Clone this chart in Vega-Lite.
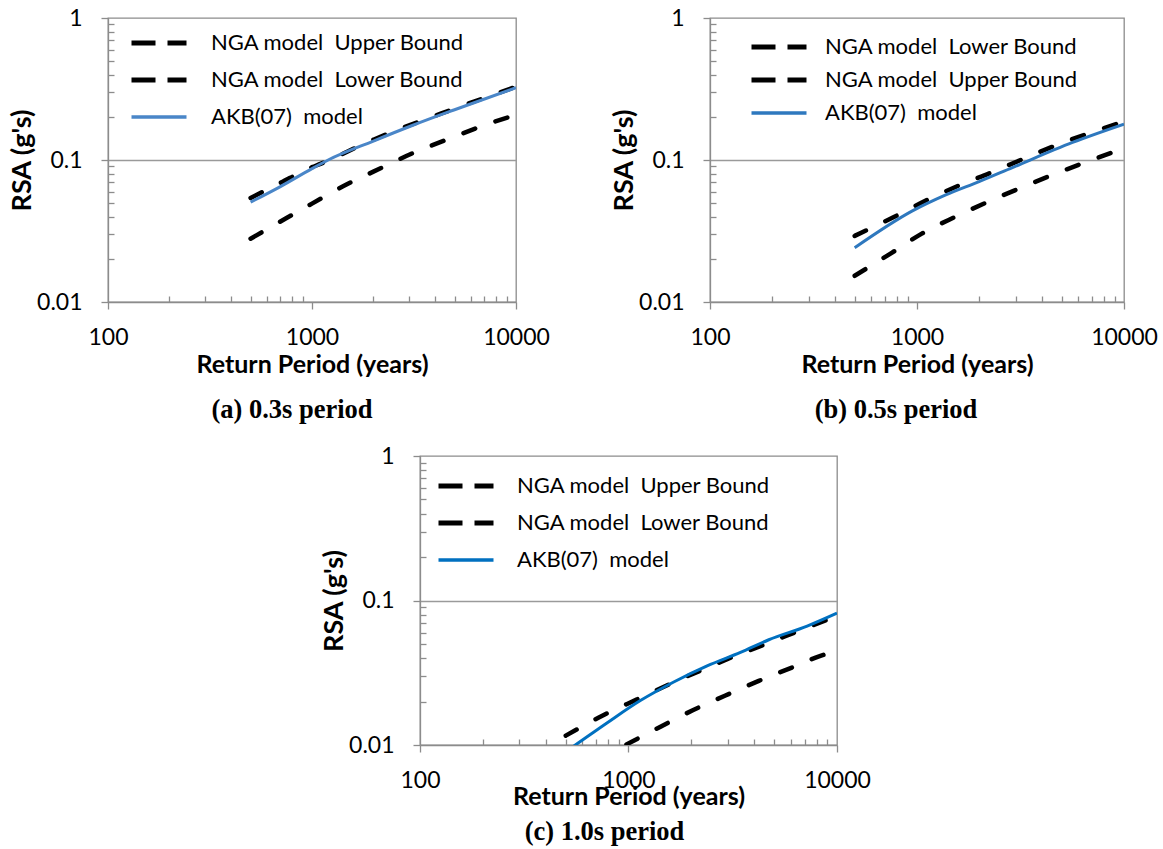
{
  "$schema": "https://vega.github.io/schema/vega-lite/v6.json",
  "padding": {"left": 7, "top": 6, "right": 5, "bottom": 0},
  "background": "white",
  "data": {"values": [
    {"panel": "a", "series": "NGA model  Upper Bound", "rp": 500, "rsa": 0.054},
    {"panel": "a", "series": "NGA model  Upper Bound", "rp": 700, "rsa": 0.069},
    {"panel": "a", "series": "NGA model  Upper Bound", "rp": 1000, "rsa": 0.089},
    {"panel": "a", "series": "NGA model  Upper Bound", "rp": 1100, "rsa": 0.094},
    {"panel": "a", "series": "NGA model  Upper Bound", "rp": 2000, "rsa": 0.139},
    {"panel": "a", "series": "NGA model  Upper Bound", "rp": 5000, "rsa": 0.23},
    {"panel": "a", "series": "NGA model  Upper Bound", "rp": 10000, "rsa": 0.328},
    {"panel": "a", "series": "NGA model  Lower Bound", "rp": 500, "rsa": 0.0279},
    {"panel": "a", "series": "NGA model  Lower Bound", "rp": 750, "rsa": 0.039},
    {"panel": "a", "series": "NGA model  Lower Bound", "rp": 1000, "rsa": 0.0493},
    {"panel": "a", "series": "NGA model  Lower Bound", "rp": 1500, "rsa": 0.068},
    {"panel": "a", "series": "NGA model  Lower Bound", "rp": 2000, "rsa": 0.0828},
    {"panel": "a", "series": "NGA model  Lower Bound", "rp": 3200, "rsa": 0.1135},
    {"panel": "a", "series": "NGA model  Lower Bound", "rp": 5000, "rsa": 0.146},
    {"panel": "a", "series": "NGA model  Lower Bound", "rp": 7000, "rsa": 0.176},
    {"panel": "a", "series": "NGA model  Lower Bound", "rp": 10000, "rsa": 0.208},
    {"panel": "a", "series": "AKB(07)  model", "rp": 500, "rsa": 0.0505},
    {"panel": "a", "series": "AKB(07)  model", "rp": 700, "rsa": 0.065},
    {"panel": "a", "series": "AKB(07)  model", "rp": 1000, "rsa": 0.087},
    {"panel": "a", "series": "AKB(07)  model", "rp": 1200, "rsa": 0.1},
    {"panel": "a", "series": "AKB(07)  model", "rp": 2000, "rsa": 0.136},
    {"panel": "a", "series": "AKB(07)  model", "rp": 3100, "rsa": 0.175},
    {"panel": "a", "series": "AKB(07)  model", "rp": 5000, "rsa": 0.226},
    {"panel": "a", "series": "AKB(07)  model", "rp": 10000, "rsa": 0.323},
    {"panel": "b", "series": "NGA model  Lower Bound", "rp": 500, "rsa": 0.0153},
    {"panel": "b", "series": "NGA model  Lower Bound", "rp": 755, "rsa": 0.0222},
    {"panel": "b", "series": "NGA model  Lower Bound", "rp": 1055, "rsa": 0.0303},
    {"panel": "b", "series": "NGA model  Lower Bound", "rp": 1513, "rsa": 0.0395},
    {"panel": "b", "series": "NGA model  Lower Bound", "rp": 2178, "rsa": 0.0504},
    {"panel": "b", "series": "NGA model  Lower Bound", "rp": 3140, "rsa": 0.0633},
    {"panel": "b", "series": "NGA model  Lower Bound", "rp": 4530, "rsa": 0.0787},
    {"panel": "b", "series": "NGA model  Lower Bound", "rp": 10000, "rsa": 0.121},
    {"panel": "b", "series": "NGA model  Upper Bound", "rp": 500, "rsa": 0.0292},
    {"panel": "b", "series": "NGA model  Upper Bound", "rp": 769, "rsa": 0.0395},
    {"panel": "b", "series": "NGA model  Upper Bound", "rp": 1104, "rsa": 0.0518},
    {"panel": "b", "series": "NGA model  Upper Bound", "rp": 1581, "rsa": 0.0658},
    {"panel": "b", "series": "NGA model  Upper Bound", "rp": 2282, "rsa": 0.0816},
    {"panel": "b", "series": "NGA model  Upper Bound", "rp": 3320, "rsa": 0.103},
    {"panel": "b", "series": "NGA model  Upper Bound", "rp": 4810, "rsa": 0.1286},
    {"panel": "b", "series": "NGA model  Upper Bound", "rp": 10000, "rsa": 0.187},
    {"panel": "b", "series": "AKB(07)  model", "rp": 500, "rsa": 0.0241},
    {"panel": "b", "series": "AKB(07)  model", "rp": 950, "rsa": 0.0438},
    {"panel": "b", "series": "AKB(07)  model", "rp": 1377, "rsa": 0.0568},
    {"panel": "b", "series": "AKB(07)  model", "rp": 1995, "rsa": 0.0705},
    {"panel": "b", "series": "AKB(07)  model", "rp": 2890, "rsa": 0.0885},
    {"panel": "b", "series": "AKB(07)  model", "rp": 5640, "rsa": 0.133},
    {"panel": "b", "series": "AKB(07)  model", "rp": 10000, "rsa": 0.179},
    {"panel": "c", "series": "NGA model  Upper Bound", "rp": 500, "rsa": 0.0116},
    {"panel": "c", "series": "NGA model  Upper Bound", "rp": 765, "rsa": 0.0162},
    {"panel": "c", "series": "NGA model  Upper Bound", "rp": 1099, "rsa": 0.0207},
    {"panel": "c", "series": "NGA model  Upper Bound", "rp": 1560, "rsa": 0.0262},
    {"panel": "c", "series": "NGA model  Upper Bound", "rp": 2254, "rsa": 0.0331},
    {"panel": "c", "series": "NGA model  Upper Bound", "rp": 3258, "rsa": 0.0414},
    {"panel": "c", "series": "NGA model  Upper Bound", "rp": 4710, "rsa": 0.0509},
    {"panel": "c", "series": "NGA model  Upper Bound", "rp": 6810, "rsa": 0.063},
    {"panel": "c", "series": "NGA model  Upper Bound", "rp": 10000, "rsa": 0.0782},
    {"panel": "c", "series": "NGA model  Lower Bound", "rp": 500, "rsa": 0.0062},
    {"panel": "c", "series": "NGA model  Lower Bound", "rp": 966, "rsa": 0.01},
    {"panel": "c", "series": "NGA model  Lower Bound", "rp": 1432, "rsa": 0.01345},
    {"panel": "c", "series": "NGA model  Lower Bound", "rp": 2033, "rsa": 0.0174},
    {"panel": "c", "series": "NGA model  Lower Bound", "rp": 2917, "rsa": 0.022},
    {"panel": "c", "series": "NGA model  Lower Bound", "rp": 4217, "rsa": 0.0278},
    {"panel": "c", "series": "NGA model  Lower Bound", "rp": 6095, "rsa": 0.0344},
    {"panel": "c", "series": "NGA model  Lower Bound", "rp": 8330, "rsa": 0.0414},
    {"panel": "c", "series": "NGA model  Lower Bound", "rp": 10000, "rsa": 0.0448},
    {"panel": "c", "series": "AKB(07)  model", "rp": 500, "rsa": 0.009},
    {"panel": "c", "series": "AKB(07)  model", "rp": 556, "rsa": 0.01},
    {"panel": "c", "series": "AKB(07)  model", "rp": 788, "rsa": 0.0142},
    {"panel": "c", "series": "AKB(07)  model", "rp": 1140, "rsa": 0.0203},
    {"panel": "c", "series": "AKB(07)  model", "rp": 1648, "rsa": 0.0273},
    {"panel": "c", "series": "AKB(07)  model", "rp": 2383, "rsa": 0.0353},
    {"panel": "c", "series": "AKB(07)  model", "rp": 3444, "rsa": 0.0437},
    {"panel": "c", "series": "AKB(07)  model", "rp": 4710, "rsa": 0.0535},
    {"panel": "c", "series": "AKB(07)  model", "rp": 7194, "rsa": 0.0665},
    {"panel": "c", "series": "AKB(07)  model", "rp": 10000, "rsa": 0.0817}
  ]},
  "config": {
    "font": "Lato",
    "view": {"stroke": "#8c8c8c", "strokeWidth": 1.3},
    "axis": {
      "domainColor": "#8c8c8c", "domainWidth": 1.3,
      "tickColor": "#8c8c8c", "tickWidth": 1.3,
      "labelFont": "Lato", "labelFontSize": 23, "labelColor": "#000",
      "titleFont": "Lato", "titleFontWeight": "bold", "titleFontSize": 25, "titleColor": "#000",
      "labelOverlap": false, "labelFlush": false, "labelBound": false, "grid": false
    },
    "legend": {
      "orient": "top-left", "title": null, "offset": 14, "padding": 0,
      "labelFont": "Lato", "labelFontSize": 22, "labelColor": "#000", "labelLimit": 0,
      "symbolType": "M-2.75,0H2.75", "symbolSize": 400, "symbolStrokeWidth": 4.5,
      "symbolOffset": 26, "labelOffset": 41, "rowPadding": 15
    },
    "title": {"font": "Liberation Serif", "fontWeight": "bold", "fontSize": 26.5, "color": "#000", "orient": "bottom", "anchor": "middle", "offset": 20}
  },
  "spacing": 19,
  "resolve": {"scale": {"color": "independent"}, "legend": {"color": "independent"}},
  "vconcat": [
    {
      "spacing": 59,
      "resolve": {"scale": {"color": "independent"}, "legend": {"color": "independent"}},
      "hconcat": [
        {
          "width": 408, "height": 284,
          "transform": [{"filter": "datum.panel === 'a'"}],
          "title": {"text": "(a) 0.3s period", "dx": -20},
          "encoding": {
            "x": {"field": "rp", "type": "quantitative", "scale": {"type": "log", "domain": [100, 10000], "nice": false},
              "axis": {"title": "Return Period (years)", "values": [100,200,300,400,500,600,700,800,900,1000,2000,3000,4000,5000,6000,7000,8000,9000,10000],
                "labelExpr": "(datum.value == 100 || datum.value == 1000 || datum.value == 10000) ? format(datum.value, 'd') : ''",
                "tickSize": {"condition": {"test": "datum.value == 100 || datum.value == 1000 || datum.value == 10000", "value": 7}, "value": -6},
                "labelPadding": 17, "titlePadding": 3}},
            "y": {"field": "rsa", "type": "quantitative", "scale": {"type": "log", "domain": [0.01, 1], "nice": false},
              "axis": {"title": "RSA (g's)", "titleFontSize": 27, "values": [0.01,0.02,0.03,0.04,0.05,0.06,0.07,0.08,0.09,0.1,0.2,0.3,0.4,0.5,0.6,0.7,0.8,0.9,1],
                "labelExpr": "abs(datum.value - 0.01) < 1e-9 ? '0.01' : abs(datum.value - 0.1) < 1e-9 ? '0.1' : abs(datum.value - 1) < 1e-9 ? '1' : ''",
                "tickSize": {"condition": {"test": "abs(datum.value - 0.01) < 1e-9 || abs(datum.value - 0.1) < 1e-9 || abs(datum.value - 1) < 1e-9", "value": 7}, "value": -6},
                "grid": true, "gridColor": "#9a9a9a", "gridWidth": 1.3,
                "gridOpacity": {"condition": {"test": "abs(datum.value - 0.1) < 1e-9", "value": 1}, "value": 0},
                "labelPadding": 19, "titlePadding": 0}},
            "color": {"field": "series", "type": "nominal",
              "scale": {"domain": ["NGA model  Upper Bound", "NGA model  Lower Bound", "AKB(07)  model"], "range": ["#000000", "#000000", "#4a86c8"]},
              "legend": {"labelExpr": "replace(datum.label, '  ', '\u00a0 ')",
                "encode": {"symbols": {"update": {
                  "strokeDash": {"signal": "datum.value === 'AKB(07)  model' ? [1, 0] : [24, 12]"},
                  "strokeWidth": {"signal": "datum.value === 'AKB(07)  model' ? 3.5 : 5"}}}}}}
          },
          "layer": [
            {"transform": [{"filter": "datum.series !== 'AKB(07)  model'"}],
             "mark": {"type": "line", "clip": true, "interpolate": "monotone", "strokeWidth": 4.5, "strokeDash": [12.5, 21.5], "strokeCap": "round"}},
            {"transform": [{"filter": "datum.series === 'AKB(07)  model'"}],
             "mark": {"type": "line", "clip": true, "interpolate": "monotone", "strokeWidth": 3}}
          ]
        },
        {
          "width": 414, "height": 284,
          "transform": [{"filter": "datum.panel === 'b'"}],
          "title": {"text": "(b) 0.5s period", "dx": -21},
          "encoding": {
            "x": {"field": "rp", "type": "quantitative", "scale": {"type": "log", "domain": [100, 10000], "nice": false},
              "axis": {"title": "Return Period (years)", "values": [100,200,300,400,500,600,700,800,900,1000,2000,3000,4000,5000,6000,7000,8000,9000,10000],
                "labelExpr": "(datum.value == 100 || datum.value == 1000 || datum.value == 10000) ? format(datum.value, 'd') : ''",
                "tickSize": {"condition": {"test": "datum.value == 100 || datum.value == 1000 || datum.value == 10000", "value": 7}, "value": -6},
                "labelPadding": 17, "titlePadding": 3}},
            "y": {"field": "rsa", "type": "quantitative", "scale": {"type": "log", "domain": [0.01, 1], "nice": false},
              "axis": {"title": "RSA (g's)", "titleFontSize": 27, "values": [0.01,0.02,0.03,0.04,0.05,0.06,0.07,0.08,0.09,0.1,0.2,0.3,0.4,0.5,0.6,0.7,0.8,0.9,1],
                "labelExpr": "abs(datum.value - 0.01) < 1e-9 ? '0.01' : abs(datum.value - 0.1) < 1e-9 ? '0.1' : abs(datum.value - 1) < 1e-9 ? '1' : ''",
                "tickSize": {"condition": {"test": "abs(datum.value - 0.01) < 1e-9 || abs(datum.value - 0.1) < 1e-9 || abs(datum.value - 1) < 1e-9", "value": 7}, "value": -6},
                "grid": true, "gridColor": "#9a9a9a", "gridWidth": 1.3,
                "gridOpacity": {"condition": {"test": "abs(datum.value - 0.1) < 1e-9", "value": 1}, "value": 0},
                "labelPadding": 19, "titlePadding": 0}},
            "color": {"field": "series", "type": "nominal",
              "scale": {"domain": ["NGA model  Lower Bound", "NGA model  Upper Bound", "AKB(07)  model"], "range": ["#000000", "#000000", "#2e78be"]},
              "legend": {"labelExpr": "replace(datum.label, '  ', '\u00a0 ')", "rowPadding": 11, "offset": 18, "symbolOffset": 40, "labelOffset": 35,
                "encode": {"symbols": {"update": {
                  "strokeDash": {"signal": "datum.value === 'AKB(07)  model' ? [1, 0] : [24, 12]"},
                  "strokeWidth": {"signal": "datum.value === 'AKB(07)  model' ? 3.5 : 5"}}}}}}
          },
          "layer": [
            {"transform": [{"filter": "datum.series !== 'AKB(07)  model'"}],
             "mark": {"type": "line", "clip": true, "interpolate": "monotone", "strokeWidth": 4.5, "strokeDash": [12.5, 21.5], "strokeCap": "round"}},
            {"transform": [{"filter": "datum.series === 'AKB(07)  model'"}],
             "mark": {"type": "line", "clip": true, "interpolate": "monotone", "strokeWidth": 3}}
          ]
        }
      ]
    },
    {
      "spacing": 0,
      "resolve": {"scale": {"color": "independent"}, "legend": {"color": "independent"}},
      "hconcat": [
        {
          "width": 211, "height": 10,
          "data": {"values": []},
          "mark": {"type": "point", "opacity": 0},
          "view": {"stroke": null}
        },
        {
          "width": 417, "height": 289,
          "transform": [{"filter": "datum.panel === 'c'"}],
          "title": {"text": "(c) 1.0s period", "dx": -24, "offset": 10},
          "encoding": {
            "x": {"field": "rp", "type": "quantitative", "scale": {"type": "log", "domain": [100, 10000], "nice": false},
              "axis": {"title": "Return Period (years)", "values": [100,200,300,400,500,600,700,800,900,1000,2000,3000,4000,5000,6000,7000,8000,9000,10000],
                "labelExpr": "(datum.value == 100 || datum.value == 1000 || datum.value == 10000) ? format(datum.value, 'd') : ''",
                "tickSize": {"condition": {"test": "datum.value == 100 || datum.value == 1000 || datum.value == 10000", "value": 7}, "value": -6},
                "labelPadding": 17, "titlePadding": -8}},
            "y": {"field": "rsa", "type": "quantitative", "scale": {"type": "log", "domain": [0.01, 1], "nice": false},
              "axis": {"title": "RSA (g's)", "titleFontSize": 27, "values": [0.01,0.02,0.03,0.04,0.05,0.06,0.07,0.08,0.09,0.1,0.2,0.3,0.4,0.5,0.6,0.7,0.8,0.9,1],
                "labelExpr": "abs(datum.value - 0.01) < 1e-9 ? '0.01' : abs(datum.value - 0.1) < 1e-9 ? '0.1' : abs(datum.value - 1) < 1e-9 ? '1' : ''",
                "tickSize": {"condition": {"test": "abs(datum.value - 0.01) < 1e-9 || abs(datum.value - 0.1) < 1e-9 || abs(datum.value - 1) < 1e-9", "value": 7}, "value": -6},
                "grid": true, "gridColor": "#9a9a9a", "gridWidth": 1.3,
                "gridOpacity": {"condition": {"test": "abs(datum.value - 0.1) < 1e-9", "value": 1}, "value": 0},
                "labelPadding": 19, "titlePadding": 0}},
            "color": {"field": "series", "type": "nominal",
              "scale": {"domain": ["NGA model  Upper Bound", "NGA model  Lower Bound", "AKB(07)  model"], "range": ["#000000", "#000000", "#0070c0"]},
              "legend": {"labelExpr": "replace(datum.label, '  ', '\u00a0 ')", "offset": 19, "symbolOffset": 16, "labelOffset": 40,
                "encode": {"symbols": {"update": {
                  "strokeDash": {"signal": "datum.value === 'AKB(07)  model' ? [1, 0] : [24, 12]"},
                  "strokeWidth": {"signal": "datum.value === 'AKB(07)  model' ? 3.5 : 5"}}}}}}
          },
          "layer": [
            {"transform": [{"filter": "datum.series !== 'AKB(07)  model'"}],
             "mark": {"type": "line", "clip": true, "interpolate": "monotone", "strokeWidth": 4.5, "strokeDash": [12.5, 21.5], "strokeCap": "round"}},
            {"transform": [{"filter": "datum.series === 'AKB(07)  model'"}],
             "mark": {"type": "line", "clip": true, "interpolate": "monotone", "strokeWidth": 3}}
          ]
        }
      ]
    }
  ]
}
